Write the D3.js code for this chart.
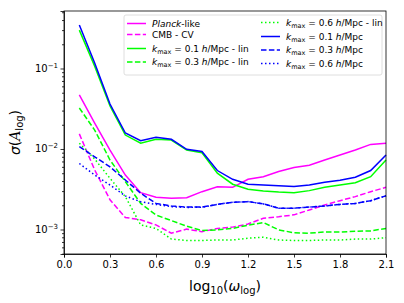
<!DOCTYPE html>
<html>
<head>
<meta charset="utf-8">
<script src="https://cdn.jsdelivr.net/npm/d3@7"></script>
<style>
  body { margin: 0; background: #fff; }
  text { font-family: "DejaVu Sans", sans-serif; }
</style>
</head>
<body>
<svg id="chart" width="404" height="303"></svg>
<script>
// omega grid (log10)
const omega = [0.1, 0.2, 0.3, 0.4, 0.5, 0.6, 0.7, 0.8, 0.9, 1.0, 1.1,
               1.2, 1.3, 1.4, 1.5, 1.6, 1.7, 1.8, 1.9, 2.0, 2.1];

// sigma(A_log) per forecast
const planckLike = [0.047, 0.021, 0.0097, 0.00475, 0.00287, 0.00251, 0.00244, 0.00248, 0.00295, 0.00339, 0.00334,
                    0.00421, 0.00453, 0.00524, 0.0059, 0.0063, 0.0073, 0.0084, 0.0097, 0.0114, 0.0118];
const cmbCV      = [0.0154, 0.0055, 0.00234, 0.00141, 0.00132, 0.00114, 0.0009, 0.00101, 0.00094, 0.00103, 0.00107,
                    0.00117, 0.00138, 0.00144, 0.00152, 0.00175, 0.00202, 0.00228, 0.00256, 0.00295, 0.00334];
const k01lin     = [0.30, 0.107, 0.0342, 0.0149, 0.0118, 0.0132, 0.0129, 0.0097, 0.009, 0.005, 0.00365,
                    0.00316, 0.0030, 0.00292, 0.00287, 0.00304, 0.00334, 0.00357, 0.0038, 0.00453, 0.0073];
const k03lin     = [0.0323, 0.0172, 0.0073, 0.00393, 0.00211, 0.00151, 0.00129, 0.0011, 0.00097, 0.00099, 0.00103,
                    0.00113, 0.00122, 0.00099, 0.00091, 0.0009, 0.00093, 0.00093, 0.00095, 0.00096, 0.00103];
const k06lin     = [0.0118, 0.0075, 0.00432, 0.00256, 0.00114, 0.00103, 0.00076, 0.00073, 0.00073, 0.00074, 0.00074,
                    0.00078, 0.0008, 0.00074, 0.00073, 0.00073, 0.00074, 0.00074, 0.00076, 0.00076, 0.00079];
const k01        = [0.347, 0.117, 0.0362, 0.0158, 0.0127, 0.014, 0.0132, 0.0099, 0.0093, 0.0054, 0.0042,
                    0.00365, 0.00356, 0.00349, 0.00342, 0.00356, 0.00385, 0.0041, 0.00445, 0.0054, 0.0084];
const k03        = [0.0107, 0.008, 0.006, 0.00412, 0.00282, 0.00211, 0.00196, 0.0019, 0.0019, 0.00205, 0.00218,
                    0.00222, 0.00208, 0.00184, 0.00184, 0.0019, 0.00196, 0.00205, 0.00211, 0.00228, 0.00262];
const k06        = [0.0066, 0.00475, 0.00357, 0.00261, 0.00221, 0.00205, 0.00192, 0.00188, 0.00189, 0.00205, 0.00218,
                    0.00222, 0.00208, 0.00184, 0.00184, 0.0019, 0.00196, 0.00205, 0.00211, 0.00228, 0.00262];

const xTicks = [0.0, 0.3, 0.6, 0.9, 1.2, 1.5, 1.8, 2.1];
const yTicks = [1e-3, 1e-2, 1e-1];

const series = [
  { values: planckLike, color: "#ff00ff", dash: null,      label: "planck" },
  { values: cmbCV,      color: "#ff00ff", dash: "5.5,2.4", label: "cmb" },
  { values: k01lin,     color: "#00ff00", dash: null,      label: "0.1 lin" },
  { values: k03lin,     color: "#00ff00", dash: "5.5,2.4", label: "0.3 lin" },
  { values: k06lin,     color: "#00ff00", dash: "1.5,2.5", label: "0.6 lin" },
  { values: k01,        color: "#0000ff", dash: null,      label: "0.1" },
  { values: k03,        color: "#0000ff", dash: "5.5,2.4", label: "0.3" },
  { values: k06,        color: "#0000ff", dash: "1.5,2.5", label: "0.6" }
];

const W = 404, H = 303;
const margin = { top: 11, right: 18, bottom: 49, left: 64 };
const svg = d3.select("#chart");

const x = d3.scaleLinear().domain([0, 2.1]).range([margin.left, W - margin.right]);
const y = d3.scaleLog().domain([4.96e-4, 0.518]).range([H - margin.bottom, margin.top]);

// lines
const line = d3.line().x((d, i) => x(omega[i])).y(d => y(d));
const plot = svg.append("g");
series.forEach(s => {
  plot.append("path")
    .datum(s.values)
    .attr("d", line)
    .attr("fill", "none")
    .attr("stroke", s.color)
    .attr("stroke-width", 1.5)
    .attr("stroke-dasharray", s.dash);
});

// x axis
const xAxis = svg.append("g").attr("transform", `translate(0,${H - margin.bottom})`)
  .call(d3.axisBottom(x).tickValues(xTicks).tickFormat(d3.format(".1f")).tickSize(3.5).tickPadding(3.5));
xAxis.selectAll("text").attr("font-size", 10).attr("fill", "#000");

// y axis, major + minor log ticks
const minor = [];
for (let e = -4; e <= -1; e++) for (let k = 2; k <= 9; k++) {
  const v = k * Math.pow(10, e);
  if (v >= y.domain()[0] && v <= y.domain()[1]) minor.push(v);
}
const yg = svg.append("g").attr("transform", `translate(${margin.left},0)`);
yg.call(d3.axisLeft(y).tickValues(yTicks).tickFormat("").tickSize(3.5));
yg.append("g").call(d3.axisLeft(y).tickValues(minor).tickFormat("").tickSize(2))
  .select(".domain").remove();
yTicks.forEach(v => {
  const t = yg.append("text").attr("x", -6).attr("y", y(v) + 3.5)
    .attr("text-anchor", "end").attr("font-size", 10).attr("fill", "#000");
  t.append("tspan").text("10");
  t.append("tspan").attr("dy", -4).attr("font-size", 7).text("\u2212" + Math.round(-Math.log10(v)));
});

// frame
svg.append("rect")
  .attr("x", margin.left).attr("y", margin.top)
  .attr("width", W - margin.left - margin.right).attr("height", H - margin.top - margin.bottom)
  .attr("fill", "none").attr("stroke", "#000").attr("stroke-width", 0.8);
svg.selectAll(".domain").attr("stroke-width", 0.8);
svg.selectAll(".tick line").attr("stroke-width", 0.8);

// axis labels
const xl = svg.append("text").attr("x", x(1.05)).attr("y", 291)
  .attr("text-anchor", "middle").attr("font-size", 14);
xl.append("tspan").text("log");
xl.append("tspan").attr("dy", 3).attr("font-size", 10).text("10");
xl.append("tspan").attr("dy", -3).text("(");
xl.append("tspan").attr("font-style", "italic").text("\u03c9");
xl.append("tspan").attr("dy", 3).attr("font-size", 10).text("log");
xl.append("tspan").attr("dy", -3).text(")");

const yl = svg.append("text")
  .attr("transform", `translate(20,${(margin.top + H - margin.bottom) / 2}) rotate(-90)`)
  .attr("text-anchor", "middle").attr("font-size", 14);
yl.append("tspan").attr("font-style", "italic").text("\u03c3");
yl.append("tspan").text("(");
yl.append("tspan").attr("font-family", "DejaVu Serif").attr("font-style", "italic").text("A");
yl.append("tspan").attr("dy", 3).attr("font-size", 10).text("log");
yl.append("tspan").attr("dy", -3).text(")");

// legend
const leg = svg.append("g");
leg.append("rect").attr("x", 124).attr("y", 15).attr("width", 258).attr("height", 60)
  .attr("rx", 2).attr("fill", "#fff").attr("fill-opacity", 0.8)
  .attr("stroke", "#d6d6d6").attr("stroke-width", 0.8);

const rowsY = [[23.5, 34.5, 48.5, 62], [22.5, 36.5, 50, 63.5]];
const colX = [127, 261];
series.forEach((s, i) => {
  const c = i < 4 ? 0 : 1, r = i < 4 ? i : i - 4;
  const hx = colX[c], hy = rowsY[c][r];
  leg.append("line").attr("x1", hx).attr("x2", hx + 19).attr("y1", hy).attr("y2", hy)
    .attr("stroke", s.color).attr("stroke-width", 1.5).attr("stroke-dasharray", s.dash);
  const t = leg.append("text").attr("x", hx + 25).attr("y", hy + 3.3).attr("font-size", 9);
  if (s.label === "planck") {
    t.append("tspan").attr("font-style", "italic").text("Planck");
    t.append("tspan").text("-like");
  } else if (s.label === "cmb") {
    t.text("CMB - CV");
  } else {
    const [k, lin] = s.label.split(" ");
    t.append("tspan").attr("font-style", "italic").text("k");
    t.append("tspan").attr("dy", 2).attr("font-size", 6.5).text("max");
    t.append("tspan").attr("dy", -2).text(" = " + k + " ");
    t.append("tspan").attr("font-style", "italic").text("h");
    t.append("tspan").text("/Mpc" + (lin ? " - lin" : ""));
  }
});
</script>
</body>
</html>
